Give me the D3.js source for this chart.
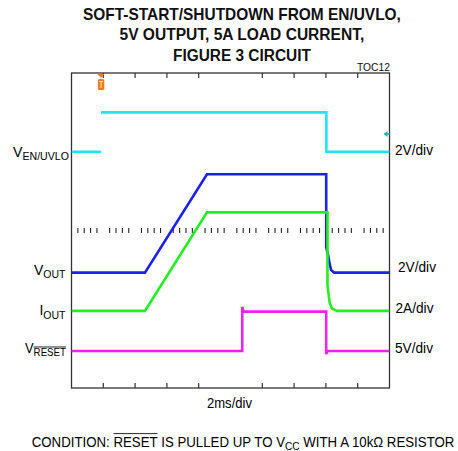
<!DOCTYPE html>
<html>
<head>
<meta charset="utf-8">
<script src="https://cdn.jsdelivr.net/npm/d3@7"></script>
<style>
  html, body { margin: 0; padding: 0; background: #fff; }
  svg { display: block; font-family: "Liberation Sans", Arial, sans-serif; }
</style>
</head>
<body>
<svg id="chart" width="458" height="451"></svg>
<script>
// ---------------- data ----------------
const titleLines = ["SOFT-START/SHUTDOWN FROM EN/UVLO,", "5V OUTPUT, 5A LOAD CURRENT,", "FIGURE 3 CIRCUIT"];
const timeDomainMs = [0, 20];           // 2ms/div, 10 divisions
const verticalDivs = [0, 8];
const frameTickDivs = [1, 2, 3, 4, 6, 7, 8, 9];

// traces: [time ms, value in channel units]; null = gap
const enUvlo = [[0, 0], [1.86, 0], null, [1.86, 2], [16.03, 2], [16.03, 0], [20, 0]];
const vOut = [[0, 0], [4.62, 0], [8.52, 5], [16.02, 5], [16.02, 1.3], [16.15, 0.84], [16.24, 0.43], [16.33, 0.13], [16.52, 0], [20, 0]];
const iOut = [[0, 0], [4.62, 0], [8.52, 5], [16.1, 5], [16.1, 1.3], [16.16, 0.9], [16.24, 0.4], [16.38, 0.12], [16.7, 0], [20, 0]];
const vReset = [[0, 0], [10.74, 0], [10.74, 5.6], [10.82, 5.0], [16.02, 5], [16.02, -0.4], [16.1, 0], [20, 0]];

const channelScales = ["2V/div", "2V/div", "2A/div", "5V/div"];
const channelPerDiv = [2, 2, 2, 5];
const channelOffsetDiv = [6.0, 2.93, 1.96, 0.94];
const channelColors = ["#22e4ee", "#1c22ee", "#22ee22", "#ee22ee"];

// ---------------- layout ----------------
const svg = d3.select("#chart");
const L = 71.5, R = 389.5, T = 73, B = 388;
const x = d3.scaleLinear().domain(timeDomainMs).range([L, R]);
const yDiv = d3.scaleLinear().domain(verticalDivs).range([B, T]);
const FONT = '"Liberation Sans", Arial, sans-serif';

// text helper: parts [{t, size, dy, overline, weight}]
function label(x0, y0, parts, opts) {
  opts = opts || {};
  const g = svg.append("g");
  const text = g.append("text").attr("x", 0).attr("y", 0)
    .attr("font-family", FONT).attr("fill", opts.fill || "#000")
    .attr("font-weight", opts.weight || "normal");
  let shift = 0, idx = 0;
  const overlines = [];
  parts.forEach(p => {
    const target = p.dy || 0;
    const ts = text.append("tspan").attr("font-size", p.size).attr("dy", target - shift).text(p.t);
    shift = target;
    if (p.overline) overlines.push({ start: idx, n: p.t.length, size: p.size, dy: target });
    idx += p.t.length;
  });
  const node = text.node();
  const w = node.getComputedTextLength();
  const s = opts.width ? opts.width / w : 1;
  overlines.forEach(o => {
    const a = node.getStartPositionOfChar(o.start).x;
    const b = node.getEndPositionOfChar(o.start + o.n - 1).x;
    const yy = o.dy - o.size * 0.86;
    g.append("line").attr("x1", a).attr("x2", b).attr("y1", yy).attr("y2", yy)
      .attr("stroke", "#000").attr("stroke-width", 0.9);
  });
  let tx = x0;
  if (opts.anchor === "end") tx = x0 - w * s;
  else if (opts.anchor === "middle") tx = x0 - w * s / 2;
  g.attr("transform", `translate(${tx},${y0}) scale(${s},1)`);
  return g;
}

// title
const titleBase = [19.5, 40, 60.5];
const titleWidths = [318, 245, 138];
titleLines.forEach((t, i) => {
  label(242, titleBase[i], [{ t, size: 17 }], { anchor: "middle", width: titleWidths[i], weight: "bold", fill: "#111" });
});
label(390, 71, [{ t: "TOC12", size: 10.5 }], { anchor: "end", width: 33, fill: "#111" });

// frame
svg.append("rect").attr("x", L).attr("y", T).attr("width", R - L).attr("height", B - T)
  .attr("fill", "none").attr("stroke", "#333").attr("stroke-width", 1.3);

// frame ticks
frameTickDivs.forEach(d => {
  const xx = x(d * 2);
  svg.append("line").attr("x1", xx).attr("x2", xx).attr("y1", T).attr("y2", T + 5).attr("stroke", "#333").attr("stroke-width", 1.2);
  svg.append("line").attr("x1", xx).attr("x2", xx).attr("y1", B).attr("y2", B - 5).attr("stroke", "#333").attr("stroke-width", 1.2);
});

// minor ticks on the center horizontal line
const yc = yDiv(4);
for (let k = 1; k < 50; k++) {
  if (k % 5 === 0) continue;
  const xx = x(k * 0.4);
  svg.append("line").attr("x1", xx).attr("x2", xx).attr("y1", yc - 2.5).attr("y2", yc + 2.5)
    .attr("stroke", "#222").attr("stroke-width", 1.1);
}

// traces
const traces = [enUvlo, vOut, iOut, vReset];
svg.append("clipPath").attr("id", "clip").append("rect")
  .attr("x", L).attr("y", T).attr("width", R - L).attr("height", B - T);
const traceG = svg.append("g").attr("clip-path", "url(#clip)");
traces.forEach((pts, i) => {
  const line = d3.line()
    .defined(d => d !== null)
    .x(d => x(d[0]))
    .y(d => yDiv(channelOffsetDiv[i] + d[1] / channelPerDiv[i]));
  traceG.append("path").attr("d", line(pts)).attr("fill", "none")
    .attr("stroke", channelColors[i]).attr("stroke-width", 2.6)
    .attr("stroke-linejoin", "miter");
});

// trigger marker (orange) at top
const tx = x(enUvlo[1][0]);
svg.append("path").attr("d", `M${tx - 3.5},${T + 1} L${tx + 3.5},${T + 1} L${tx},${T + 5} Z`).attr("fill", "#f07a1e");
svg.append("rect").attr("x", tx - 3.2).attr("y", T + 6).attr("width", 6.4).attr("height", 11).attr("rx", 1.5).attr("fill", "#f07a1e");
svg.append("path").attr("d", `M${tx - 2},${T + 8.5} L${tx + 2},${T + 8.5} M${tx},${T + 8.5} L${tx},${T + 15}`)
  .attr("stroke", "#ffd9b0").attr("stroke-width", 1.2).attr("fill", "none");

// reference marker (teal) at right edge
const ym = 134;
svg.append("path").attr("d", `M${R - 6},${ym} L${R - 2},${ym - 3} L${R - 2},${ym + 3} Z`).attr("fill", "#1fb0b0");
svg.append("line").attr("x1", R - 4).attr("x2", R).attr("y1", ym).attr("y2", ym).attr("stroke", "#1fb0b0").attr("stroke-width", 1.5);

// left channel labels
label(69, 157, [{ t: "V", size: 14 }, { t: "EN/UVLO", size: 10.5, dy: 3 }], { anchor: "end", width: 56 });
label(65.5, 274.5, [{ t: "V", size: 14 }, { t: "OUT", size: 10.5, dy: 3.5 }], { anchor: "end" });
label(65.5, 315, [{ t: "I", size: 14 }, { t: "OUT", size: 10.5, dy: 3.5 }], { anchor: "end" });
label(66, 353, [{ t: "V", size: 14 }, { t: "RESET", size: 10.5, dy: 3, overline: true }], { anchor: "end", width: 41 });

// right scale labels
const scaleBase = [155, 272, 313, 353];
const scaleX = [395, 398, 395.5, 395];
channelScales.forEach((s, i) => label(scaleX[i], scaleBase[i], [{ t: s, size: 14 }], { width: 38 }));

// x scale label
label(229.5, 408, [{ t: "2ms/div", size: 14 }], { anchor: "middle", width: 45 });

// condition note
label(31.7, 446.5, [
  { t: "CONDITION: ", size: 15 },
  { t: "RESET", size: 15, overline: true },
  { t: " IS PULLED UP TO V", size: 15 },
  { t: "CC", size: 11.5, dy: 3 },
  { t: " WITH A 10kΩ RESISTOR", size: 15, dy: 0 }
], { width: 423 });
</script>
</body>
</html>
